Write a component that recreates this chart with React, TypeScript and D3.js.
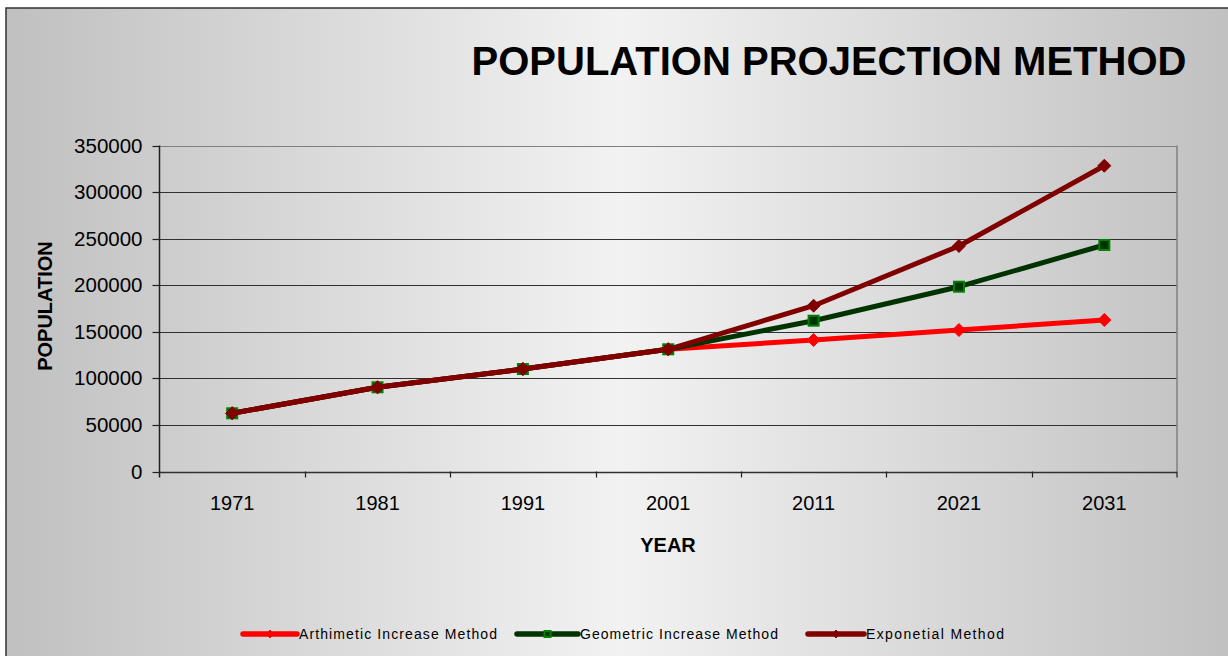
import React from "react";
import * as d3 from "d3";

const years = ["1971", "1981", "1991", "2001", "2011", "2021", "2031"];
const arithmetic = [62500, 90400, 110000, 131200, 141200, 151900, 162700];
const geometric = [62500, 90400, 110000, 131200, 161900, 198400, 243200];
const exponential = [62500, 90400, 110000, 131200, 178000, 242100, 328300];
const yTicks = [0, 50000, 100000, 150000, 200000, 250000, 300000, 350000];
const seriesNames = ["Arthimetic Increase Method", "Geometric Increase Method", "Exponetial Method"];

const W = 1228;
const H = 656;
const plot = { left: 159.5, right: 1177, top: 145.5, bottom: 471.5 };

export default function App() {
  const x = d3.scaleBand<string>().domain(years).range([plot.left, plot.right]).padding(0);
  const y = d3.scaleLinear().domain([0, 350000]).range([plot.bottom, plot.top]);
  const cx = (d: string) => (x(d) as number) + x.bandwidth() / 2;
  const line = d3
    .line<number>()
    .x((_, i) => cx(years[i]))
    .y((v) => y(v));

  const series = [
    { name: seriesNames[0], data: arithmetic, color: "#ff0000", marker: "diamond", mfill: "#ff0000", mstroke: "#ff0000" },
    { name: seriesNames[1], data: geometric, color: "#003300", marker: "square", mfill: "#003300", mstroke: "#008000" },
    { name: seriesNames[2], data: exponential, color: "#800000", marker: "diamond", mfill: "#800000", mstroke: "#800000" },
  ];

  const marker = (type: string, px: number, py: number, fill: string, stroke: string, key: string, s = 1) => {
    if (type === "square") {
      const h = 5 * s;
      return <rect key={key} x={px - h} y={py - h} width={2 * h} height={2 * h} fill={fill} stroke={stroke} strokeWidth={2} />;
    }
    const h = 6.5 * s;
    return (
      <path
        key={key}
        d={`M${px},${py - h}L${px + h},${py}L${px},${py + h}L${px - h},${py}Z`}
        fill={fill}
        stroke={stroke}
        strokeWidth={1}
      />
    );
  };

  const legendItems = [
    { lx: 243, lx2: 297, tx: 299, tl: 198 },
    { lx: 517, lx2: 578, tx: 580, tl: 198 },
    { lx: 808, lx2: 864, tx: 866, tl: 138 },
  ];
  const legendY = 634;

  return (
    <svg
      width={W}
      height={H}
      style={{ position: "absolute", left: 0, top: 0, display: "block" }}
      fontFamily="'Liberation Sans', Arial, Helvetica, sans-serif"
    >
      <defs>
        <linearGradient id="bg" x1="6" x2="1236" y1="0" y2="0" gradientUnits="userSpaceOnUse">
          <stop offset="0" stopColor="#c0c0c0" />
          <stop offset="0.5" stopColor="#f2f2f2" />
          <stop offset="1" stopColor="#c0c0c0" />
        </linearGradient>
      </defs>
      <rect x={0} y={0} width={W} height={H} fill="#ffffff" />
      <rect x={6} y={8} width={1240} height={680} fill="url(#bg)" stroke="#303030" strokeWidth={1.5} />

      {/* Title */}
      <text x={829} y={75} textAnchor="middle" fontSize={40} fontWeight="bold" fill="#000">
        POPULATION PROJECTION METHOD
      </text>

      {/* Gridlines */}
      {yTicks.map((t) => (
        <line
          key={"g" + t}
          x1={plot.left}
          x2={plot.right}
          y1={Math.round(y(t)) + 0.5}
          y2={Math.round(y(t)) + 0.5}
          stroke={t === 350000 ? "#808080" : "#303030"}
          strokeWidth={t === 0 ? 1.5 : 1.2}
        />
      ))}
      {/* Plot right border */}
      <line x1={plot.right} x2={plot.right} y1={plot.top} y2={plot.bottom} stroke="#808080" strokeWidth={1.5} />
      {/* Y axis */}
      <line x1={plot.left} x2={plot.left} y1={plot.top} y2={plot.bottom + 6} stroke="#202020" strokeWidth={1.5} />
      {yTicks.map((t) => (
        <g key={"yt" + t}>
          <line x1={plot.left - 7} x2={plot.left} y1={Math.round(y(t)) + 0.5} y2={Math.round(y(t)) + 0.5} stroke="#202020" strokeWidth={1.2} />
          <text x={142.5} y={y(t) + 7} textAnchor="end" fontSize={20.5} fill="#000">
            {t}
          </text>
        </g>
      ))}
      {/* X ticks */}
      {years.map((yr, i) => (
        <g key={"xt" + yr}>
          {i > 0 && (
            <line
              x1={Math.round(x(yr) as number) + 0.5}
              x2={Math.round(x(yr) as number) + 0.5}
              y1={plot.bottom}
              y2={plot.bottom + 6}
              stroke="#202020"
              strokeWidth={1.2}
            />
          )}
          <text x={cx(yr)} y={510} textAnchor="middle" fontSize={20} fill="#000">
            {yr}
          </text>
        </g>
      ))}
      <line x1={plot.right} x2={plot.right} y1={plot.bottom} y2={plot.bottom + 6} stroke="#202020" strokeWidth={1.2} />

      {/* Axis titles */}
      <text x={668} y={552} textAnchor="middle" fontSize={20} fontWeight="bold" fill="#000">
        YEAR
      </text>
      <text
        transform={`translate(52,306) rotate(-90)`}
        textAnchor="middle"
        fontSize={20}
        fontWeight="bold"
        fill="#000"
      >
        POPULATION
      </text>

      {/* Series */}
      {series.map((s) => (
        <g key={s.name}>
          <path d={line(s.data) || ""} fill="none" stroke={s.color} strokeWidth={5} strokeLinejoin="round" />
          {s.data.map((v, i) => marker(s.marker, cx(years[i]), y(v), s.mfill, s.mstroke, s.name + i))}
        </g>
      ))}

      {/* Legend */}
      {series.map((s, i) => {
        const li = legendItems[i];
        return (
          <g key={"lg" + i}>
            <line x1={li.lx} x2={li.lx2} y1={legendY} y2={legendY} stroke={s.color} strokeWidth={5.5} strokeLinecap="round" />
            {marker(s.marker, (li.lx + li.lx2) / 2, legendY, s.mfill, s.mstroke, "lm" + i, 0.6)}
            <text x={li.tx} y={legendY + 5} fontSize={14} fill="#000" textLength={li.tl} lengthAdjust="spacing">
              {s.name}
            </text>
          </g>
        );
      })}
    </svg>
  );
}
